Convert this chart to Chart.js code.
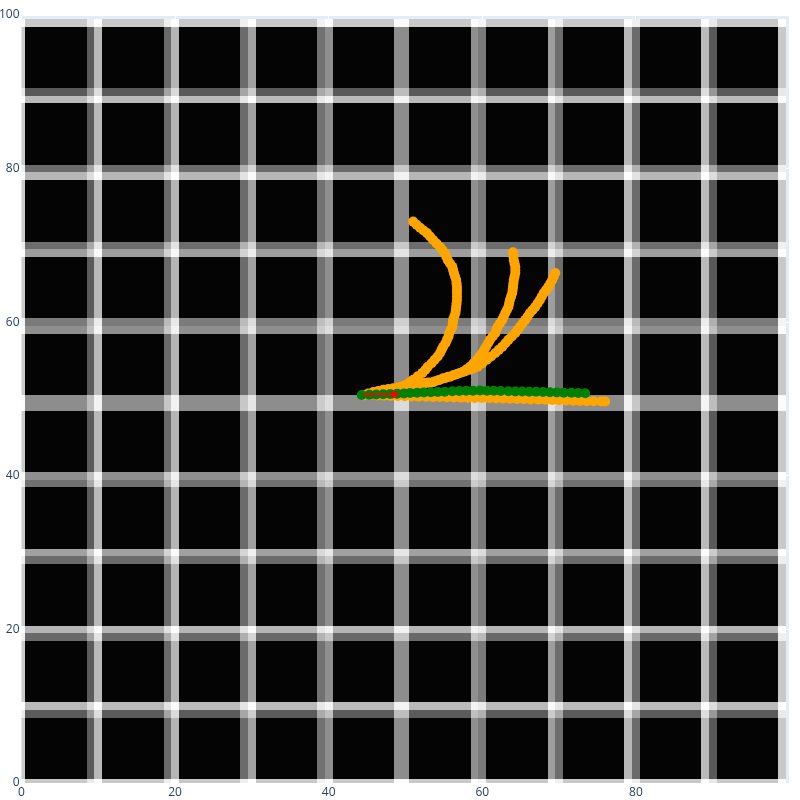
<!DOCTYPE html>
<html>
<head>
<meta charset="utf-8">
<script src="https://cdn.jsdelivr.net/npm/chart.js@4/dist/chart.umd.min.js"></script>
<style>
html,body{margin:0;padding:0;background:#ffffff;}
canvas{display:block;}
</style>
</head>
<body>
<canvas id="c" width="800" height="800"></canvas>
<script>
// ---- tick labels ----
const xTickValues = [0, 20, 40, 60, 80];
const yTickValues = [0, 20, 40, 60, 80, 100];

// ---- background picture: grey levels of the grid bands ----
// intensity of pixel index 10k (k = 0..9) and of pixel index 10k-1 (k = 1..10)
const bandAt10k       = [200, 184, 180, 160, 142, 140, 121, 108, 106, 88];
const bandAt10kMinus1 = [90, 104, 106, 112, 140, 142, 157, 182, 185, 200];

// ---- orange trajectories ----
const orange1X = [44.5, 45.4, 46.3, 47.0, 47.6, 48.3, 48.9, 49.4, 49.9, 50.5, 51.0, 51.6, 52.2, 52.6, 52.9, 53.4, 53.8, 54.2, 54.5, 54.7, 54.9, 55.2, 55.4, 55.6, 55.7, 55.9, 56.1, 56.15, 56.2, 56.35, 56.5, 56.55, 56.6, 56.65, 56.7, 56.7, 56.7, 56.7, 56.7, 56.65, 56.6, 56.45, 56.3, 56.2, 56.1, 55.8, 55.5, 55.3, 55.1, 54.8, 54.5, 54.05, 53.6, 53.2, 52.8, 52.35, 51.9, 51.45, 51.0];
const orange1Y = [50.5, 50.65, 50.8, 50.85, 50.9, 51.15, 51.4, 51.6, 51.8, 52.15, 52.5, 52.95, 53.4, 53.8, 54.2, 54.65, 55.1, 55.55, 56.0, 56.4, 56.8, 57.25, 57.7, 58.15, 58.6, 59.0, 59.4, 59.85, 60.3, 60.75, 61.2, 61.6, 62.0, 62.45, 62.9, 63.35, 63.8, 64.2, 64.6, 65.05, 65.5, 65.95, 66.4, 66.8, 67.2, 67.65, 68.1, 68.55, 69.0, 69.4, 69.8, 70.25, 70.7, 71.15, 71.6, 71.95, 72.3, 72.7, 73.1];

const orange2X = [44.5, 45.15, 45.8, 46.45, 47.1, 47.75, 48.4, 49.05, 49.7, 50.35, 51.0, 51.65, 52.3, 52.95, 53.6, 54.25, 54.9, 55.55, 56.2, 56.8, 57.4, 57.9, 58.4, 58.85, 59.3, 59.65, 60.0, 60.25, 60.5, 60.75, 61.0, 61.35, 61.7, 61.85, 62.0, 62.3, 62.6, 62.8, 63.0, 63.2, 63.4, 63.5, 63.6, 63.75, 63.9, 63.95, 64.0, 64.05, 64.1, 64.2, 64.3, 64.3, 64.3, 64.2, 64.1, 64.05, 64.0];
const orange2Y = [50.5, 50.7, 50.9, 51.05, 51.2, 51.3, 51.4, 51.5, 51.6, 51.7, 51.8, 51.95, 52.1, 52.15, 52.2, 52.45, 52.7, 52.9, 53.1, 53.3, 53.5, 53.85, 54.2, 54.65, 55.1, 55.55, 56.0, 56.4, 56.8, 57.25, 57.7, 58.15, 58.6, 59.0, 59.4, 59.85, 60.3, 60.75, 61.2, 61.6, 62.0, 62.45, 62.9, 63.35, 63.8, 64.2, 64.6, 65.05, 65.5, 65.95, 66.4, 66.8, 67.2, 67.65, 68.1, 68.6, 69.1];

const orange3X = [44.5, 45.25, 46.0, 46.8, 47.6, 48.25, 48.9, 49.55, 50.2, 51.05, 51.9, 52.55, 53.2, 53.85, 54.5, 55.15, 55.8, 56.45, 57.1, 57.75, 58.4, 58.9, 59.4, 60.0, 60.6, 61.15, 61.7, 62.15, 62.6, 63.0, 63.4, 63.85, 64.3, 64.6, 64.9, 65.25, 65.6, 65.9, 66.2, 66.55, 66.9, 67.2, 67.5, 67.75, 68.0, 68.3, 68.6, 68.85, 69.1, 69.3, 69.5];
const orange3Y = [50.5, 50.65, 50.8, 50.9, 51.0, 51.15, 51.3, 51.45, 51.6, 51.8, 52.0, 52.05, 52.1, 52.3, 52.5, 52.7, 52.9, 53.15, 53.4, 53.6, 53.8, 54.0, 54.2, 54.65, 55.1, 55.55, 56.0, 56.4, 56.8, 57.25, 57.7, 58.15, 58.6, 59.0, 59.4, 59.85, 60.3, 60.75, 61.2, 61.6, 62.0, 62.45, 62.9, 63.35, 63.8, 64.2, 64.6, 65.05, 65.5, 65.95, 66.4];

const orange4X = [44.5, 45.4, 46.3, 47.2, 48.1, 49.0, 49.9, 50.8, 51.7, 52.7, 53.6, 54.5, 55.4, 56.3, 57.2, 58.1, 59.0, 59.96, 60.9, 61.8, 62.7, 63.6, 64.5, 65.4, 66.3, 67.3, 68.2, 69.1, 70.0, 70.9, 71.8, 72.7, 73.6, 74.5, 75.5, 76.0];
const orange4Y = [50.52, 50.50, 50.47, 50.44, 50.41, 50.38, 50.35, 50.33, 50.31, 50.29, 50.27, 50.25, 50.22, 50.20, 50.18, 50.16, 50.14, 50.12, 50.10, 50.08, 50.06, 50.04, 50.01, 49.98, 49.95, 49.92, 49.90, 49.87, 49.84, 49.81, 49.78, 49.75, 49.72, 49.70, 49.68, 49.67];

// ---- green trajectory ----
const greenX = [44.3, 45.3, 46.2, 47.1, 48.0, 48.9, 49.8, 50.6, 51.5, 52.4, 53.3, 54.2, 55.1, 56.1, 57.0, 57.9, 58.8, 59.7, 60.6, 61.5, 62.4, 63.4, 64.3, 65.2, 66.1, 67.0, 67.9, 68.8, 69.7, 70.6, 71.6, 72.5, 73.4];
const greenY = [50.52, 50.55, 50.59, 50.61, 50.65, 50.69, 50.73, 50.77, 50.81, 50.85, 50.89, 50.92, 50.96, 51.00, 51.04, 51.07, 51.09, 51.11, 51.09, 51.07, 51.04, 51.02, 50.99, 50.98, 50.96, 50.94, 50.91, 50.89, 50.86, 50.83, 50.81, 50.78, 50.74];

// ---- red arrow ----
const arrowX = [44.5, 48.6];
const arrowY = [50.61, 50.61];

function pts(xs, ys){ return xs.map((x,i)=>({x:x, y:ys[i]})); }

function bandLevel(i){
  if (i % 10 === 0) return bandAt10k[i/10];
  if (i % 10 === 9) return bandAt10kMinus1[(i+1)/10 - 1];
  return 2;
}

const bgPlugin = {
  id: 'bgimg',
  beforeDraw(chart){
    const {ctx, chartArea:a} = chart;
    ctx.save();
    ctx.fillStyle = '#E5ECF6';
    ctx.fillRect(a.left, a.top, a.right - a.left, a.bottom - a.top);
    ctx.restore();
  },
  beforeDatasetsDraw(chart){
    const {ctx, chartArea:a} = chart;
    const xs = chart.scales.x, ys = chart.scales.y;
    const off = document.createElement('canvas');
    off.width = 100; off.height = 100;
    const octx = off.getContext('2d');
    const img = octx.createImageData(100, 100);
    for (let r = 0; r < 100; r++){
      const j = 99 - r;
      const rv = bandLevel(j);
      for (let i = 0; i < 100; i++){
        const cv = bandLevel(i);
        let v = cv + rv - 0.8*cv*rv/255;
        v = Math.max(0, Math.min(255, Math.round(v)));
        const p = (r*100 + i)*4;
        img.data[p] = v; img.data[p+1] = v; img.data[p+2] = v; img.data[p+3] = 255;
      }
    }
    octx.putImageData(img, 0, 0);
    const x0 = xs.getPixelForValue(-0.5), x1 = xs.getPixelForValue(99.5);
    const y0 = ys.getPixelForValue(99.5), y1 = ys.getPixelForValue(-0.5);
    ctx.save();
    ctx.beginPath();
    ctx.rect(a.left, a.top, a.right - a.left, a.bottom - a.top);
    ctx.clip();
    ctx.imageSmoothingEnabled = false;
    ctx.drawImage(off, x0, y0, x1 - x0, y1 - y0);
    ctx.restore();
  }
};

const orangeStyle = {
  backgroundColor: '#FFA500', borderColor: '#FFA500', borderWidth: 0,
  pointRadius: 5, pointHoverRadius: 5, showLine: false, order: 3
};

new Chart(document.getElementById('c'), {
  type: 'scatter',
  data: {
    datasets: [
      Object.assign({ data: pts(orange1X, orange1Y) }, orangeStyle),
      Object.assign({ data: pts(orange2X, orange2Y) }, orangeStyle),
      Object.assign({ data: pts(orange3X, orange3Y) }, orangeStyle),
      Object.assign({ data: pts(orange4X, orange4Y) }, orangeStyle),
      { data: pts(greenX, greenY), backgroundColor: '#008000', borderColor: '#008000', borderWidth: 0,
        pointRadius: 5, pointHoverRadius: 5, showLine: false, order: 2 },
      { data: pts(arrowX, arrowY), showLine: true, borderColor: '#FF0000', borderWidth: 2,
        backgroundColor: '#FF0000', pointBorderWidth: 0,
        pointRadius: [0, 5], pointStyle: 'triangle', rotation: 90, order: 1 }
    ]
  },
  options: {
    responsive: false,
    animation: false,
    events: [],
    layout: { padding: { top: 15, right: 10.5, left: 0, bottom: 0 } },
    plugins: { legend: { display: false }, tooltip: { enabled: false } },
    scales: {
      x: {
        type: 'linear', min: 0, max: 100,
        afterFit(s){ s.height = 17; },
        afterBuildTicks(s){ s.ticks = xTickValues.concat([100]).map(v=>({value:v})); },
        grid: { color: '#ffffff', lineWidth: 1, drawTicks: false },
        border: { display: false },
        ticks: { autoSkip: false, maxRotation: 0, padding: 2, color: '#2a3f5f',
          font: { family: 'Open Sans', size: 12 },
          callback: (v)=> xTickValues.includes(v) ? String(v) : '' }
      },
      y: {
        type: 'linear', min: 0, max: 100,
        afterFit(s){ s.width = 21.5; },
        afterBuildTicks(s){ s.ticks = yTickValues.map(v=>({value:v})); },
        grid: { color: '#ffffff', lineWidth: 1, drawTicks: false },
        border: { display: false },
        ticks: { autoSkip: false, padding: 2, color: '#2a3f5f',
          font: { family: 'Open Sans', size: 12 },
          callback: (v)=> String(v) }
      }
    }
  },
  plugins: [bgPlugin]
});
</script>
</body>
</html>
